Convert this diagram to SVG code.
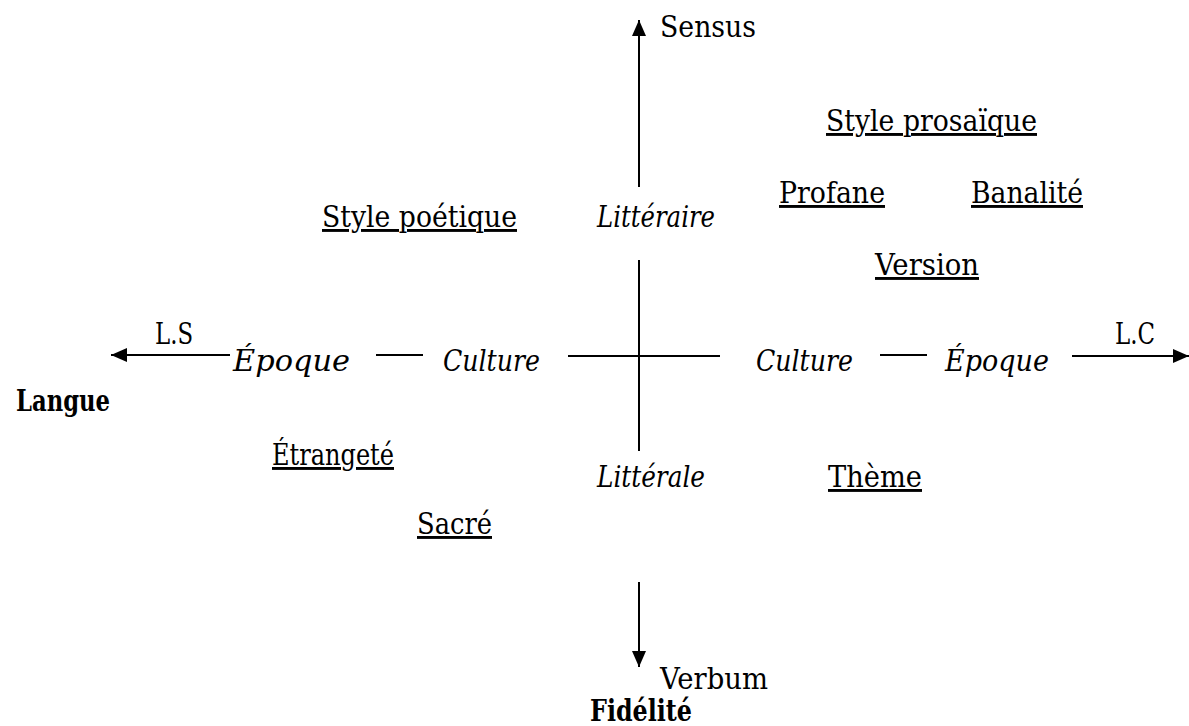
<svg xmlns="http://www.w3.org/2000/svg" width="1189" height="726" viewBox="0 0 1189 726">
<style>
text{font-family:"DejaVu Serif","Liberation Serif",serif;font-size:29px;fill:#000}
.i{font-style:italic}
.u{text-decoration:underline}
.b{font-weight:bold}
.ln{stroke:#000;stroke-width:2;fill:none}
</style>
<defs>
<marker id="a" viewBox="0 0 16 14" refX="16" refY="7" markerWidth="16" markerHeight="14" markerUnits="userSpaceOnUse" orient="auto">
<path d="M0,0 L16,7 L0,14 Z" fill="#000"/>
</marker>
</defs>
<g id="connectors">
<line class="ln" x1="639" y1="187" x2="639" y2="20" marker-end="url(#a)"/>
<line class="ln" x1="639" y1="582" x2="639" y2="667" marker-end="url(#a)"/>
<line class="ln" x1="230" y1="355" x2="111" y2="355" marker-end="url(#a)"/>
<line class="ln" x1="1072" y1="356" x2="1189" y2="356" marker-end="url(#a)"/>
<line class="ln" x1="639" y1="260" x2="639" y2="451"/>
<line class="ln" x1="568" y1="356" x2="720" y2="356"/>
<line class="ln" x1="376" y1="355" x2="423" y2="355"/>
<line class="ln" x1="880" y1="355" x2="927" y2="355"/>
</g>
<g id="sensus"><text x="660" y="37" textLength="96" lengthAdjust="spacingAndGlyphs">Sensus</text></g>
<g id="style-prosaique"><text class="u" x="826" y="131" textLength="211" lengthAdjust="spacingAndGlyphs">Style prosaïque</text></g>
<g id="profane"><text class="u" x="779" y="203" textLength="106" lengthAdjust="spacingAndGlyphs">Profane</text></g>
<g id="banalite"><text class="u" x="971" y="203" textLength="112" lengthAdjust="spacingAndGlyphs">Banalité</text></g>
<g id="style-poetique"><text class="u" x="322" y="227" textLength="195" lengthAdjust="spacingAndGlyphs">Style poétique</text></g>
<g id="litteraire"><text class="i" x="597" y="227" textLength="118" lengthAdjust="spacingAndGlyphs">Littéraire</text></g>
<g id="version"><text class="u" x="875" y="275" textLength="104" lengthAdjust="spacingAndGlyphs">Version</text></g>
<g id="ls"><text x="155" y="344" textLength="38" lengthAdjust="spacingAndGlyphs">L.S</text></g>
<g id="epoque-l"><text class="i" x="233" y="371" textLength="117" lengthAdjust="spacingAndGlyphs">Époque</text></g>
<g id="culture-l"><text class="i" x="443" y="371" textLength="97" lengthAdjust="spacingAndGlyphs">Culture</text></g>
<g id="culture-r"><text class="i" x="756" y="371" textLength="97" lengthAdjust="spacingAndGlyphs">Culture</text></g>
<g id="epoque-r"><text class="i" x="945" y="371" textLength="104" lengthAdjust="spacingAndGlyphs">Époque</text></g>
<g id="lc"><text x="1115" y="344" textLength="40" lengthAdjust="spacingAndGlyphs">L.C</text></g>
<g id="langue"><text class="b" x="16" y="411" textLength="94" lengthAdjust="spacingAndGlyphs">Langue</text></g>
<g id="etrangete"><text class="u" x="272" y="465" textLength="122" lengthAdjust="spacingAndGlyphs">Étrangeté</text></g>
<g id="litterale"><text class="i" x="597" y="487" textLength="108" lengthAdjust="spacingAndGlyphs">Littérale</text></g>
<g id="theme"><text class="u" x="828" y="487" textLength="94" lengthAdjust="spacingAndGlyphs">Thème</text></g>
<g id="sacre"><text class="u" x="417" y="534" textLength="75" lengthAdjust="spacingAndGlyphs">Sacré</text></g>
<g id="verbum"><text x="660" y="689" textLength="108" lengthAdjust="spacingAndGlyphs">Verbum</text></g>
<g id="fidelite"><text class="b" x="590" y="721" textLength="102" lengthAdjust="spacingAndGlyphs">Fidélité</text></g>
</svg>
